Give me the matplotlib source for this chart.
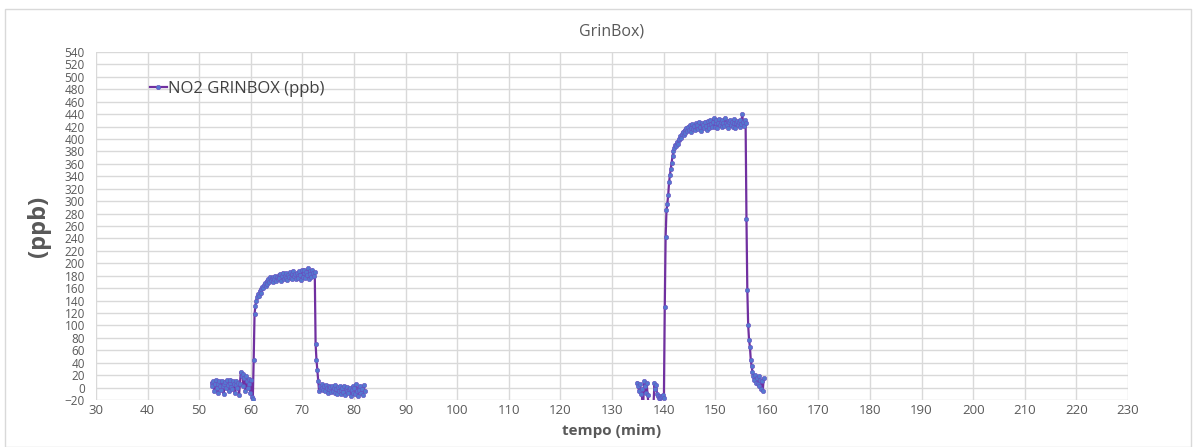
import matplotlib.pyplot as plt
import matplotlib.patches as patches
import numpy as np

# --- dati (campionamento ogni 10 s) ---
t0_run1 = 52.4
no2_run1 = [8, 2, 10, -5, 5, 12, 0, -8, 6, 10,
            3, -4, 11, 2, -10, 5, 9, 0, 12, 4,
            -6, 8, 13, 1, -3, 10, 6, -9, 4, 11,
            0, 7, -12, 5, 25, 18, 22, 3, 15, -5,
            18, 10, 0, 14, 6, -8, 12,
            -15, -18,
            45, 118, 132, 140, 145, 150, 148, 155, 158, 153,
            162, 160, 165, 168, 163, 172, 167, 175, 170, 178,
            173, 177, 170, 178, 175, 180, 172, 178,
            174, 181, 176, 183, 172, 179, 185, 175, 180, 177,
            184, 173, 181, 178, 186, 176, 182, 174, 188, 179,
            183, 175, 185, 180, 176, 187, 181, 173, 189, 178,
            184, 190, 176, 186, 181, 192, 175, 188, 183, 178,
            190, 185, 180, 186,
            70, 45, 28, 10, -5, 3, -2, 5, 0, -4,
            2, -6, 4, -1, -8, 3, -3, 1, -7, 2,
            -5, 0, -9, 4, -3, -10, 1, -6, 2, -4,
            -11, 0, -7, 3, -12, -2, -5, 1, -9, -3,
            0, -13, -4, 2, -8, -1, -10, 5, -6, -14,
            0, -4, 3, -9, -2, -12, 4, -6]

t0_run2 = 134.9
no2_run2 = [8, 2, -5, 5, -10, -2, -25, -25, 10, 3,
            -8, 8, -12, -25, -25, -25, -25, -25, -25, -25,
            8, -2, 4, -10, -14, -16, -13, -17, -15, -14,
            -12, -16,
            130, 243, 285, 296, 310, 330, 342, 352, 362, 372,
            380, 385, 390, 388, 395, 392, 398, 400, 405, 402,
            408, 412, 406, 415, 410, 418,
            413, 420, 415, 422, 412, 418, 424, 416, 421, 414,
            425, 418, 422, 416, 427, 420, 413, 426, 419, 423,
            417, 428, 421, 415, 429, 422, 418, 431, 424, 419,
            427, 433, 420, 425, 430, 418, 426, 432, 423, 428,
            419, 430, 425, 421, 434, 426, 422, 429, 417, 427,
            431, 423, 428, 420, 426, 432, 418, 425, 429, 422,
            427, 419, 430, 424, 440, 428, 421, 430, 425,
            272, 157, 100, 77, 66, 45, 34, 25, 18, 12,
            20, 8, 15, 5, 18, 2, 12, -2, 10, -5, 15]

t1 = t0_run1 + np.arange(len(no2_run1)) / 6.0
t2 = t0_run2 + np.arange(len(no2_run2)) / 6.0
t = np.concatenate([t1, [np.nan], t2])
no2 = np.concatenate([no2_run1, [np.nan], no2_run2])

plt.rcParams['font.family'] = ['Open Sans', 'DejaVu Sans']
grey = '#595959'

fig = plt.figure(figsize=(11.95, 4.47), dpi=100)
ax = fig.add_axes([0.0803, 0.1051, 0.8636, 0.7786])

# cornice esterna
fig.patches.append(patches.Rectangle((0.004, 0.0), 0.993, 0.98, transform=fig.transFigure,
                                     fill=False, edgecolor='#D9D9D9', linewidth=1))

ax.plot(t, no2, color='#7030A0', linewidth=1.6, marker='o', markersize=3.2,
        markerfacecolor='#5478D0', markeredgecolor='#6A4FC0', markeredgewidth=0.4,
        label='NO2 GRINBOX (ppb)')

ax.set_xlim(30, 230)
ax.set_ylim(-20, 540)
ax.set_xticks(np.arange(30, 231, 10))
ax.set_yticks(np.arange(-20, 541, 20))
ax.grid(True, color='#D9D9D9', linewidth=1)
ax.set_axisbelow(True)
for s in ax.spines.values():
    s.set_visible(False)
ax.tick_params(axis='both', length=0, colors=grey)
ax.tick_params(axis='x', labelsize=9.5, pad=3)
ax.tick_params(axis='y', labelsize=8.5, pad=8)

ax.set_title('GrinBox)', fontsize=11.5, color=grey, pad=12)
ax.set_xlabel('tempo (mim)', fontsize=11, fontweight='bold', color=grey, labelpad=5)
ax.set_ylabel('(ppb)', fontsize=17, fontweight='bold', color=grey, labelpad=10)

leg = ax.legend(loc='upper left', bbox_to_anchor=(0.046, 0.935), frameon=False,
                fontsize=12, handlelength=1.0, handletextpad=0.1, borderaxespad=0)
for txt in leg.get_texts():
    txt.set_color('#404040')

fig.savefig('out.png', dpi=100)
